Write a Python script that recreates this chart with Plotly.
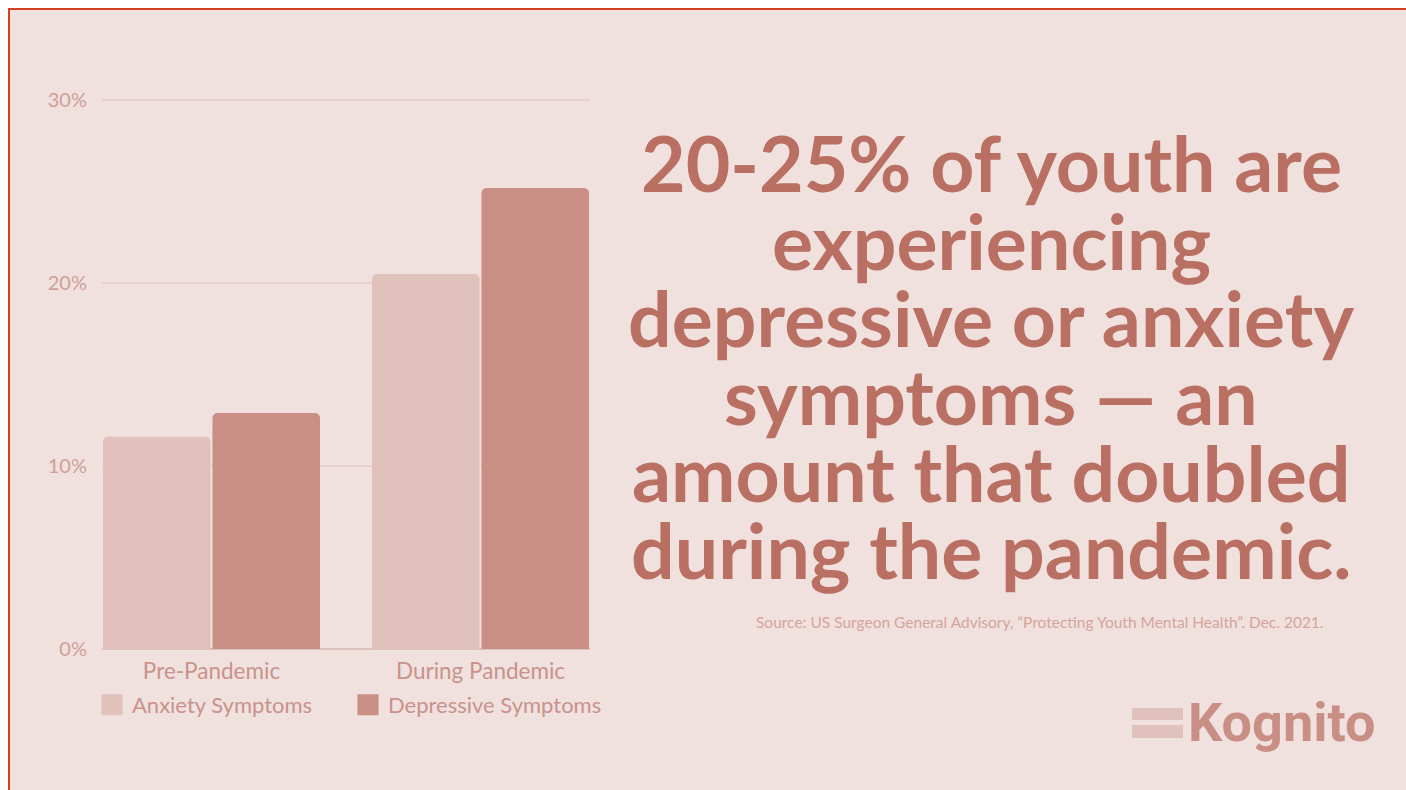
import plotly.graph_objects as go

# ---- data ----
categories = ["Pre-Pandemic", "During Pandemic"]
series_names = ["Anxiety Symptoms", "Depressive Symptoms"]
anxiety = [11.6, 20.5]
depressive = [12.9, 25.2]
y_tickvals = [0, 10, 20, 30]
y_ticktext = ["0%", "10%", "20%", "30%"]
headline_lines = [
    "20-25% of youth are",
    "experiencing",
    "depressive or anxiety",
    "symptoms \u2014 an",
    "amount that doubled",
    "during the pandemic.",
]
source_text = "Source: US Surgeon General Advisory, \u201cProtecting Youth Mental Health\u201d. Dec. 2021."
logo_text = "Kognito"

# ---- style ----
W, H = 1406, 790
BG = "#f0e1df"
C_ANX = "#e0c1bc"
C_DEP = "#c98f84"
C_HEAD = "#b96f62"
C_TICK = "#cf9f97"
C_LABEL = "#c9928a"
C_BORDER = "#d2401f"
FONT = "Lato"


def px_x(x):
    return x / W


def px_y(y):
    return 1 - y / H


fig = go.Figure()

fig.add_trace(go.Bar(x=categories, y=anxiety, name=series_names[0],
                     marker=dict(color=C_ANX, line=dict(width=0)), showlegend=False))
fig.add_trace(go.Bar(x=categories, y=depressive, name=series_names[1],
                     marker=dict(color=C_DEP, line=dict(width=0)), showlegend=False))

# legend entries with large square swatches
for name, col in zip(series_names, [C_ANX, C_DEP]):
    fig.add_trace(go.Scatter(x=[categories[0]], y=[None], mode="markers", name=name,
                             marker=dict(symbol="square", size=16, color=col,
                                         line=dict(color=col, width=5)),
                             showlegend=True, hoverinfo="skip"))

shapes = [
    # card background with red border (left & top visible)
    dict(type="rect", xref="paper", yref="paper", x0=px_x(9), x1=1.02, y0=-0.02, y1=px_y(9),
         fillcolor=BG, line=dict(color=C_BORDER, width=2), layer="below"),
    # logo bars
    dict(type="rect", xref="paper", yref="paper", x0=px_x(1132), x1=px_x(1183),
         y0=px_y(720), y1=px_y(708), fillcolor=C_ANX, line=dict(width=0)),
    dict(type="rect", xref="paper", yref="paper", x0=px_x(1132), x1=px_x(1183),
         y0=px_y(738), y1=px_y(725), fillcolor=C_ANX, line=dict(width=0)),
]

annotations = []
line_centers = [162, 239.5, 317, 394.5, 472, 549]
for txt, yc in zip(headline_lines, line_centers):
    annotations.append(dict(text="<b>" + txt + "</b>", xref="paper", yref="paper",
                            x=px_x(991), y=px_y(yc), xanchor="center", yanchor="middle",
                            showarrow=False, font=dict(family=FONT, size=77, color=C_HEAD)))
annotations.append(dict(text=source_text, xref="paper", yref="paper",
                        x=px_x(1326), y=px_y(622), xanchor="right", yanchor="middle",
                        showarrow=False, font=dict(family=FONT, size=15.5, color="#d6a49b")))
annotations.append(dict(text="<b>" + logo_text + "</b>", xref="paper", yref="paper",
                        x=px_x(1186), y=px_y(722), xanchor="left", yanchor="middle",
                        showarrow=False, font=dict(family="Roboto", size=54, color=C_DEP)))

fig.update_layout(
    width=W, height=H,
    margin=dict(l=0, r=0, t=0, b=0, pad=0),
    paper_bgcolor="white",
    plot_bgcolor=BG,
    barmode="group",
    bargap=0.186,
    bargroupgap=0.018,
    barcornerradius=5,
    font=dict(family=FONT, color=C_LABEL),
    shapes=shapes,
    annotations=annotations,
    legend=dict(orientation="h", x=px_x(92), xanchor="left", y=px_y(705), yanchor="middle",
                font=dict(family=FONT, size=22, color=C_LABEL), bgcolor="rgba(0,0,0,0)",
                entrywidth=211, entrywidthmode="pixels", itemclick=False),
    xaxis=dict(domain=[px_x(102), px_x(590)], range=[-0.407, 1.407], automargin=False,
               showgrid=False, zeroline=False, showline=False, ticks="",
               tickfont=dict(family=FONT, size=22.5, color=C_LABEL), ticklabelstandoff=6,
               fixedrange=True),
    yaxis=dict(domain=[px_y(649), px_y(91)], range=[0, 30.5], automargin=False,
               tickvals=y_tickvals, ticktext=y_ticktext,
               showgrid=True, gridcolor="#e9d2ce", gridwidth=1.5,
               zeroline=True, zerolinecolor="#dcc2bd", zerolinewidth=1.5,
               showline=False, ticks="",
               tickfont=dict(family=FONT, size=20, color=C_TICK), ticklabelstandoff=14,
               fixedrange=True),
    hovermode=False,
)

fig.write_html("out.html")
